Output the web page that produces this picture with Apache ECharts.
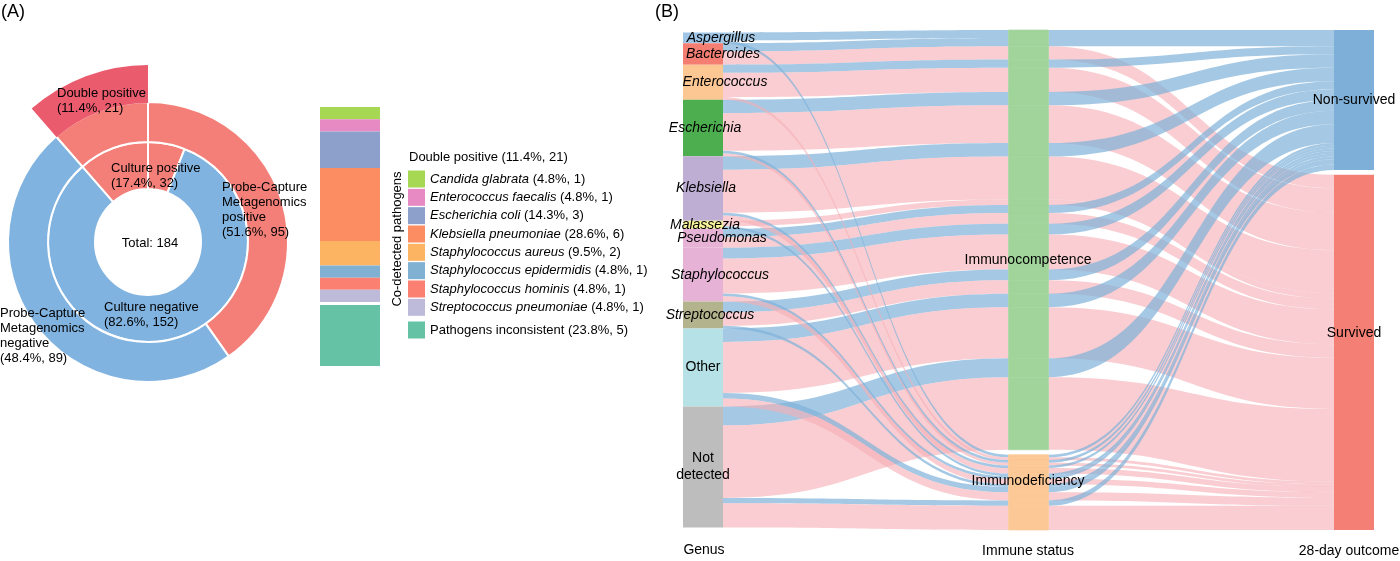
<!DOCTYPE html>
<html><head><meta charset="utf-8">
<script src="https://cdn.jsdelivr.net/npm/echarts@6/dist/echarts.min.js"></script>
<style>html,body{margin:0;padding:0;background:#fff}#c{width:1400px;height:561px}</style>
</head><body><div id="c"></div>
<script>
// ---------- Panel A data ----------
const TOTAL = 184;
const innerNames = ['Culture positive', 'Culture negative'];
const innerValues = [32, 152];
const outerNames = ['Probe-Capture\nMetagenomics\npositive', 'Probe-Capture\nMetagenomics\nnegative'];
const outerValues = [95, 89];
const doubleName = 'Double positive';
const doubleValue = 21;

const pathogenNames = ['Candida glabrata', 'Enterococcus faecalis', 'Escherichia coli', 'Klebsiella pneumoniae',
  'Staphylococcus aureus', 'Staphylococcus epidermidis', 'Staphylococcus hominis', 'Streptococcus pneumoniae'];
const pathogenCounts = [1, 1, 3, 6, 2, 1, 1, 1];
const inconsistentName = 'Pathogens inconsistent';
const inconsistentCount = 5;

// ---------- Panel B data ----------
const genusNames = ['Aspergillus', 'Bacteroides', 'Enterococcus', 'Escherichia', 'Klebsiella', 'Malassezia',
  'Pseudomonas', 'Staphylococcus', 'Streptococcus', 'Other', 'Not detected'];
const compNonSurvived = [3, 3, 3, 5, 5, 0, 3, 4, 4, 5, 7];
const compSurvived    = [0, 5, 9, 14, 16, 2, 4, 13, 5, 19, 27];
const defNonSurvived  = [1, 0, 0, 1, 1, 1, 0, 1, 1, 2, 2];
const defSurvived     = [0, 0, 1, 1, 2, 0, 0, 2, 0, 3, 9];
const immuneNames = ['Immunocompetence', 'Immunodeficiency'];
const outcomeNames = ['Non-survived', 'Survived'];
const axisTitles = ['Genus', 'Immune status', '28-day outcome'];

// ---------- styles ----------
const FONT = "'Liberation Sans', Arial, Helvetica, sans-serif";
const RED = '#F37F78', BLUE = '#80B3E0', DARKRED = '#EB5B6E';
const pathogenColors = ['#A6D854', '#E78AC3', '#8DA0CB', '#FC8D62', '#FDB462', '#80B1D3', '#FB8072', '#BEBADA'];
const inconsistentColor = '#66C2A5';
const genusColors = ['#9EC5E6', '#F47E72', '#FDC793', '#4CAE4F', '#BFAED4', '#F8F39B', '#E6B3D6', '#E6B3D6',
  '#B3B38D', '#B5E1E7', '#BDBDBD'];
const genusItalic = [true, true, true, true, true, true, true, true, true, false, false];
const genusLabelDx = [18, 20, 22, 2, 3, 2, 19, 17, 7, 0, 0];
const immuneColors = ['#A0D49B', '#FCC895'];
const outcomeColors = ['#7EAFD8', '#F47F74'];
const outcomeLabelDy = [0, -19];
const LINK_N = '#7FB2DA', LINK_S = '#F6AEB4';

function pct(v, t) { return (v / t * 100).toFixed(1); }

const chart = echarts.init(document.getElementById('c'));

// ---------- pie ----------
const startA = 90 + doubleValue / TOTAL * 360;
const pieCenter = [148, 242];
const pieBorder = { borderColor: '#fff', borderWidth: 2 };
const innerSeries = {
  type: 'pie', center: pieCenter, radius: [53, 100], startAngle: startA, silent: true, z: 2,
  label: { show: false }, labelLine: { show: false }, itemStyle: pieBorder,
  data: [
    { name: innerNames[0] + ' (double)', value: doubleValue, itemStyle: { color: RED } },
    { name: innerNames[0], value: innerValues[0] - doubleValue, itemStyle: { color: RED } },
    { name: innerNames[1], value: innerValues[1], itemStyle: { color: BLUE } }
  ]
};
const outerSeries = {
  type: 'pie', center: pieCenter, radius: [100, 140], startAngle: startA, silent: true, z: 2,
  label: { show: false }, labelLine: { show: false }, itemStyle: pieBorder,
  data: [
    { name: 'pos (double)', value: doubleValue, itemStyle: { color: RED } },
    { name: 'pos', value: outerValues[0] - doubleValue, itemStyle: { color: RED } },
    { name: 'neg', value: outerValues[1], itemStyle: { color: BLUE } }
  ]
};
const doubleSeries = {
  type: 'pie', center: pieCenter, radius: [139, 177], startAngle: startA, silent: true, z: 3,
  label: { show: false }, labelLine: { show: false },
  data: [
    { name: doubleName, value: doubleValue, itemStyle: { color: DARKRED, borderWidth: 0 } },
    { name: 'rest', value: TOTAL - doubleValue, itemStyle: { color: 'rgba(0,0,0,0)', borderWidth: 0 } }
  ]
};

// ---------- stacked bar ----------
const SPACER = 0.25;
const barSeries = pathogenNames.map((n, i) => ({
  type: 'bar', name: n, stack: 'p', barWidth: '100%', silent: true,
  itemStyle: { color: pathogenColors[i] }, data: [pathogenCounts[i]]
}));
barSeries.push({ type: 'bar', name: '_spacer', stack: 'p', barWidth: '100%', silent: true,
  itemStyle: { color: 'rgba(0,0,0,0)' }, data: [SPACER] });
barSeries.push({
  type: 'bar', name: inconsistentName, stack: 'p', barWidth: '100%', silent: true,
  itemStyle: { color: inconsistentColor }, data: [inconsistentCount]
});
const barTotal = pathogenCounts.reduce((a, b) => a + b, 0) + inconsistentCount;

// ---------- sankey (alluvial) ----------
const GAP = 1.8;
const hidden = { itemStyle: { opacity: 0 }, label: { show: false } };
const nodes = [];
const links = [];
function addLink(s, t, v, c, op) {
  links.push({ source: s, target: t, value: v, lineStyle: { color: c, opacity: op } });
}
nodes.push(Object.assign({ name: '_gt', value: GAP / 2, depth: 0 }, hidden));
genusNames.forEach((g, i) => nodes.push({
  name: g, depth: 0, itemStyle: { color: genusColors[i] },
  label: { fontStyle: genusItalic[i] ? 'italic' : 'normal', offset: [genusLabelDx[i], 0] }
}));
nodes.push(Object.assign({ name: '_gb', value: GAP / 2, depth: 0 }, hidden));

// immune stratum built from one segment per alluvium so flows pass straight through
const groups = [
  { imm: 0, parts: [[compNonSurvived, 0], [compSurvived, 1]] },
  { imm: 1, parts: [[defNonSurvived, 0], [defSurvived, 1]] }
];
groups.forEach((grp, gi) => {
  if (gi === 1) nodes.push(Object.assign({ name: '_gi', value: GAP, depth: 1 }, hidden));
  const col = immuneColors[grp.imm];
  genusNames.forEach((g, i) => {
    grp.parts.forEach(([arr, oc]) => {
      const v = arr[i];
      if (!v) return;
      const id = immuneNames[grp.imm] + '|' + g + '|' + outcomeNames[oc];
      nodes.push({ name: id, depth: 1, itemStyle: { color: col, borderColor: col, borderWidth: 0.6 }, label: { show: false } });
      const lc = oc === 0 ? LINK_N : LINK_S;
      const op = oc === 0 ? 0.7 : 0.62;
      addLink(g, id, v, lc, op);
      addLink(id, outcomeNames[oc], v, lc, op);
    });
  });
});
nodes.push({ name: outcomeNames[0], depth: 2, itemStyle: { color: outcomeColors[0] }, label: { offset: [0, outcomeLabelDy[0]] } });
nodes.push(Object.assign({ name: '_go', value: GAP, depth: 2 }, hidden));
nodes.push({ name: outcomeNames[1], depth: 2, itemStyle: { color: outcomeColors[1] }, label: { offset: [0, outcomeLabelDy[1]] } });

const sankeySeries = {
  type: 'sankey', left: 683, right: 26, top: 30, bottom: 31, nodeWidth: 40, nodeGap: 0,
  layoutIterations: 0, draggable: false, silent: true, emphasis: { disabled: true }, nodeAlign: 'left',
  label: {
    position: 'inside', color: '#000', fontSize: 14, fontFamily: FONT, lineHeight: 17,
    formatter: p => p.name === 'Not detected' ? 'Not\ndetected' : p.name
  },
  itemStyle: { borderWidth: 0 },
  lineStyle: { curveness: 0.5 },
  data: nodes, links: links
};

// ---------- texts ----------
const T = (x, y, text, opt) => ({
  type: 'text', x: x, y: y, silent: true, z: 100,
  style: Object.assign({ text: text, fill: '#000', font: `13px ${FONT}`, textAlign: 'left', textVerticalAlign: 'top', lineHeight: 15 }, opt || {})
});
const graphics = [
  T(1, 2, '(A)', { font: `18px ${FONT}`, lineHeight: 20 }),
  T(655, 2, '(B)', { font: `18px ${FONT}`, lineHeight: 20 }),
  T(57, 85.5, `${doubleName}\n(${pct(doubleValue, TOTAL)}%, ${doubleValue})`),
  T(111, 160.5, `${innerNames[0]}\n(${pct(innerValues[0], TOTAL)}%, ${innerValues[0]})`),
  T(222, 179.5, `${outerNames[0]}\n(${pct(outerValues[0], TOTAL)}%, ${outerValues[0]})`),
  T(104, 299.5, `${innerNames[1]}\n(${pct(innerValues[1], TOTAL)}%, ${innerValues[1]})`),
  T(0, 305.5, `${outerNames[1]}\n(${pct(outerValues[1], TOTAL)}%, ${outerValues[1]})`),
  T(150, 243, `Total: ${TOTAL}`, { textAlign: 'center', textVerticalAlign: 'middle' }),
  T(409, 157, `${doubleName} (${pct(doubleValue, TOTAL)}%, ${doubleValue})`, { textVerticalAlign: 'middle' }),
  { type: 'text', x: 397, y: 239, rotation: Math.PI / 2, silent: true, z: 100,
    style: { text: 'Co-detected pathogens', fill: '#000', font: `13px ${FONT}`, textAlign: 'center', textVerticalAlign: 'middle' } },
  T(1028, 260, immuneNames[0], { font: `14px ${FONT}`, textAlign: 'center', textVerticalAlign: 'middle' }),
  T(1028, 481, immuneNames[1], { font: `14px ${FONT}`, textAlign: 'center', textVerticalAlign: 'middle' }),
  T(704, 550, axisTitles[0], { font: `14px ${FONT}`, textAlign: 'center', textVerticalAlign: 'middle' }),
  T(1028, 551, axisTitles[1], { font: `14px ${FONT}`, textAlign: 'center', textVerticalAlign: 'middle' }),
  T(1349, 551, axisTitles[2], { font: `14px ${FONT}`, textAlign: 'center', textVerticalAlign: 'middle' })
];

const legendText = { color: '#000', fontSize: 13, fontFamily: FONT,
  rich: { i: { fontStyle: 'italic', fontSize: 13, fontFamily: FONT, color: '#000' } } };

chart.setOption({
  animation: false,
  backgroundColor: '#fff',
  grid: { left: 320, top: 107, width: 60, height: 259, containLabel: false },
  xAxis: { type: 'category', data: ['Double positive'], show: false },
  yAxis: { type: 'value', min: 0, max: barTotal + SPACER, inverse: true, show: false },
  legend: [
    { data: pathogenNames, orient: 'vertical', left: 408, top: 170.5, itemWidth: 17, itemHeight: 17, itemGap: 1.33,
      icon: 'rect', selectedMode: false, textStyle: legendText, padding: 0,
      formatter: n => { const i = pathogenNames.indexOf(n); return `{i|${n}} (${pct(pathogenCounts[i], barTotal)}%, ${pathogenCounts[i]})`; } },
    { data: [inconsistentName], orient: 'vertical', left: 408, top: 321.5, itemWidth: 17, itemHeight: 17,
      icon: 'rect', selectedMode: false, textStyle: legendText, padding: 0,
      formatter: n => `${n} (${pct(inconsistentCount, barTotal)}%, ${inconsistentCount})` }
  ],
  series: [innerSeries, outerSeries, doubleSeries, ...barSeries, sankeySeries],
  graphic: graphics
});
</script></body></html>
